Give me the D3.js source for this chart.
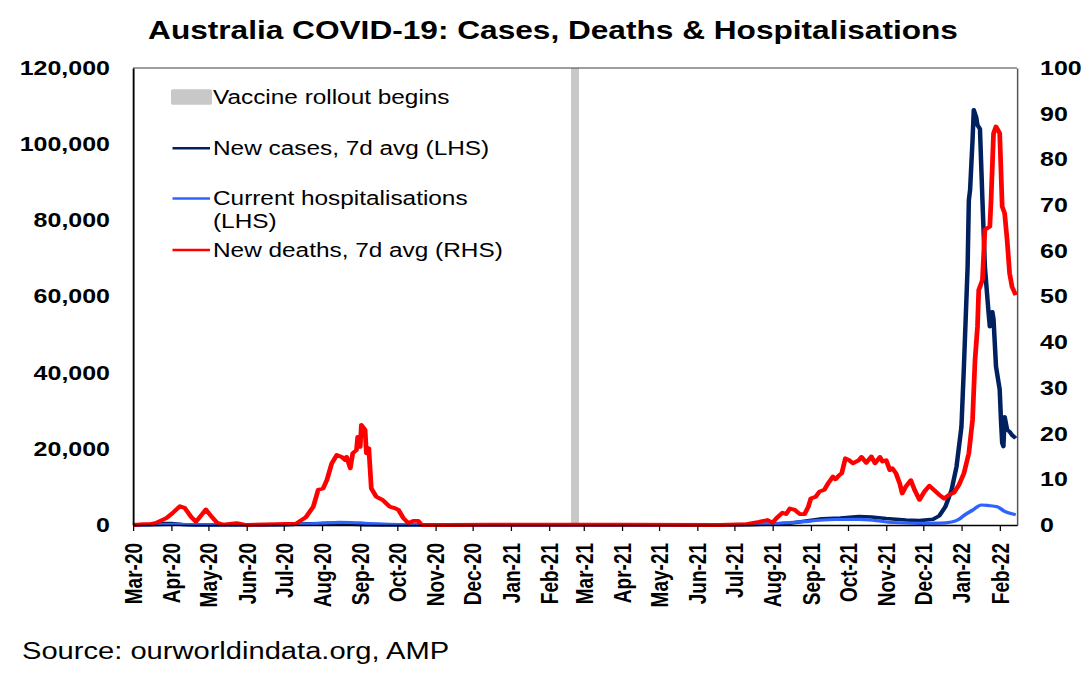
<!DOCTYPE html>
<html>
<head>
<meta charset="utf-8">
<script src="https://cdn.jsdelivr.net/npm/d3@7"></script>
<style>
  body { margin: 0; background: #fff; }
  svg { display: block; font-family: "Liberation Sans", Arial, sans-serif; }
</style>
</head>
<body>
<svg id="chart"></svg>
<script>
"use strict";

// Data.

var casesData = [
  ["2020-03-01", 5], ["2020-03-15", 60], ["2020-03-25", 350], ["2020-04-01", 380],
  ["2020-04-10", 150], ["2020-04-20", 40], ["2020-05-10", 15], ["2020-06-15", 15],
  ["2020-07-01", 60], ["2020-07-15", 250], ["2020-08-01", 400], ["2020-08-08", 450],
  ["2020-08-20", 300], ["2020-09-05", 110], ["2020-09-20", 30], ["2020-10-10", 15],
  ["2020-11-15", 8], ["2020-12-25", 20], ["2021-01-05", 25], ["2021-02-01", 8],
  ["2021-04-01", 10], ["2021-06-01", 10], ["2021-06-30", 25], ["2021-07-15", 90],
  ["2021-07-31", 250], ["2021-08-15", 450], ["2021-08-31", 1200], ["2021-09-10", 1650],
  ["2021-09-25", 1800], ["2021-10-10", 2250], ["2021-10-20", 2100], ["2021-11-01", 1700],
  ["2021-11-17", 1300], ["2021-11-28", 1150], ["2021-12-09", 1500], ["2021-12-14", 2400],
  ["2021-12-19", 4800], ["2021-12-24", 9200], ["2021-12-28", 15300], ["2022-01-01", 25800],
  ["2022-01-03", 41600], ["2022-01-06", 67800], ["2022-01-07", 85300], ["2022-01-08", 88000],
  ["2022-01-10", 101100], ["2022-01-11", 109000], ["2022-01-13", 107000], ["2022-01-14", 105000],
  ["2022-01-16", 104000], ["2022-01-18", 85300], ["2022-01-20", 67800], ["2022-01-23", 55600],
  ["2022-01-24", 52100], ["2022-01-25", 55000], ["2022-01-26", 56000], ["2022-01-27", 54000],
  ["2022-01-29", 41600], ["2022-02-01", 35500], ["2022-02-02", 27600], ["2022-02-03", 21500],
  ["2022-02-04", 20600], ["2022-02-05", 28400], ["2022-02-07", 25000], ["2022-02-09", 24500],
  ["2022-02-11", 23600], ["2022-02-14", 22800]
];

var hospData = [
  ["2020-03-01", 0], ["2020-03-20", 50], ["2020-04-05", 150], ["2020-04-20", 100],
  ["2020-05-15", 40], ["2020-06-15", 20], ["2020-07-01", 30], ["2020-07-20", 250],
  ["2020-08-05", 550], ["2020-08-15", 680], ["2020-08-25", 650], ["2020-09-05", 450],
  ["2020-09-20", 250], ["2020-10-05", 100], ["2020-10-25", 30], ["2020-12-01", 10],
  ["2021-03-01", 15], ["2021-06-19", 30], ["2021-07-10", 100], ["2021-07-31", 300],
  ["2021-08-15", 600], ["2021-08-26", 870], ["2021-09-08", 1250], ["2021-09-21", 1450],
  ["2021-10-10", 1500], ["2021-10-24", 1150], ["2021-11-06", 650], ["2021-11-28", 440],
  ["2021-12-14", 480], ["2021-12-24", 800], ["2021-12-30", 1500], ["2022-01-03", 2500],
  ["2022-01-10", 3900], ["2022-01-17", 5250], ["2022-01-23", 5100], ["2022-01-30", 4800],
  ["2022-02-05", 3600], ["2022-02-10", 3000], ["2022-02-14", 2700]
];

var deathsData = [
  ["2020-03-01", 0], ["2020-03-10", 0.2], ["2020-03-15", 0.2], ["2020-03-20", 0.5],
  ["2020-03-28", 1.5], ["2020-04-02", 2.6], ["2020-04-08", 4.1], ["2020-04-12", 3.7],
  ["2020-04-17", 1.8], ["2020-04-21", 0.7], ["2020-04-24", 1.7], ["2020-04-29", 3.4],
  ["2020-05-04", 1.7], ["2020-05-08", 0.5], ["2020-05-13", 0.1], ["2020-05-24", 0.4],
  ["2020-06-01", 0], ["2020-06-25", 0.2], ["2020-07-11", 0.3], ["2020-07-19", 1.7],
  ["2020-07-25", 4.0], ["2020-07-29", 7.7], ["2020-08-02", 8.0], ["2020-08-05", 9.8],
  ["2020-08-09", 13.5], ["2020-08-13", 15.3], ["2020-08-17", 14.9], ["2020-08-20", 14.2],
  ["2020-08-21", 14.9], ["2020-08-24", 12.4], ["2020-08-26", 15.7], ["2020-08-29", 16.4],
  ["2020-08-30", 19.3], ["2020-09-01", 17.1], ["2020-09-02", 21.9], ["2020-09-05", 20.8],
  ["2020-09-06", 15.7], ["2020-09-08", 16.8], ["2020-09-10", 8.0], ["2020-09-14", 6.2],
  ["2020-09-19", 5.5], ["2020-09-25", 4.0], ["2020-09-29", 3.7], ["2020-10-02", 3.3],
  ["2020-10-06", 1.5], ["2020-10-10", 0.4], ["2020-10-14", 0.9], ["2020-10-18", 0.9],
  ["2020-10-21", 0], ["2020-11-12", 0], ["2020-12-15", 0.1], ["2021-01-10", 0.1],
  ["2021-04-01", 0.1], ["2021-06-19", 0], ["2021-07-11", 0.2], ["2021-07-21", 0.7],
  ["2021-07-28", 1.1], ["2021-08-01", 0.5], ["2021-08-05", 1.7], ["2021-08-09", 2.7],
  ["2021-08-12", 2.4], ["2021-08-15", 3.6], ["2021-08-19", 3.3], ["2021-08-23", 2.4],
  ["2021-08-27", 2.4], ["2021-08-30", 4.0], ["2021-09-01", 5.8], ["2021-09-05", 6.2],
  ["2021-09-08", 7.3], ["2021-09-12", 7.7], ["2021-09-15", 9.1], ["2021-09-19", 10.6],
  ["2021-09-21", 10.0], ["2021-09-24", 10.9], ["2021-09-26", 11.3], ["2021-09-29", 14.6],
  ["2021-10-02", 14.2], ["2021-10-05", 13.5], ["2021-10-10", 14.2], ["2021-10-12", 14.9],
  ["2021-10-16", 13.6], ["2021-10-20", 15.0], ["2021-10-23", 13.5], ["2021-10-27", 14.9],
  ["2021-10-29", 13.9], ["2021-11-01", 14.2], ["2021-11-04", 12.0], ["2021-11-06", 12.4],
  ["2021-11-09", 11.3], ["2021-11-12", 9.1], ["2021-11-14", 6.9], ["2021-11-17", 8.4],
  ["2021-11-21", 9.8], ["2021-11-24", 7.7], ["2021-11-28", 5.5], ["2021-12-02", 7.3],
  ["2021-12-06", 8.6], ["2021-12-10", 7.6], ["2021-12-14", 6.6], ["2021-12-18", 5.8],
  ["2021-12-22", 6.6], ["2021-12-26", 7.1], ["2021-12-30", 8.8], ["2022-01-03", 11.3],
  ["2022-01-07", 15.7], ["2022-01-10", 23.0], ["2022-01-12", 36.1], ["2022-01-14", 43.4],
  ["2022-01-15", 51.4], ["2022-01-18", 53.6], ["2022-01-20", 64.6], ["2022-01-24", 65.3],
  ["2022-01-25", 71.1], ["2022-01-27", 85.7], ["2022-01-29", 87.2], ["2022-02-01", 85.7],
  ["2022-02-03", 69.7], ["2022-02-05", 68.2], ["2022-02-07", 62.4], ["2022-02-09", 55.1],
  ["2022-02-11", 52.1], ["2022-02-14", 50.3]
];

var vaccineDate = "2021-02-22";
var dateRange = ["2020-03-01", "2022-02-15"];

var leftTicks = [0, 20000, 40000, 60000, 80000, 100000, 120000];
var rightTicks = [0, 10, 20, 30, 40, 50, 60, 70, 80, 90, 100];

var legendLabels = [
  ["Vaccine rollout begins"],
  ["New cases, 7d avg (LHS)"],
  ["Current hospitalisations", "(LHS)"],
  ["New deaths, 7d avg (RHS)"]
];

var titleText = "Australia COVID-19: Cases, Deaths & Hospitalisations";
var sourceText = "Source: ourworldindata.org, AMP";

// Colours.

var CasesColor = "#002060";
var HospColor = "#2E64FE";
var DeathsColor = "#FF0000";
var VaccineColor = "#C8C8C8";

// Page. The reference is stretched sideways, so everything is drawn in a
// narrower viewBox and stretched back out to the page width.

var PageW = 1081, PageH = 684;
var SX = 1.25;
var W = PageW / SX;

var svg = d3.select("#chart")
    .attr("width", PageW)
    .attr("height", PageH)
    .attr("viewBox", "0 0 " + W + " " + PageH)
    .attr("preserveAspectRatio", "none");

var Left = 133 / SX, Right = 1017 / SX, Top = 68, Bottom = 525;

var parse = d3.timeParse("%Y-%m-%d");
var toPoints = function(arr){
    return arr.map(function(d){ return {date: parse(d[0]), value: d[1]}; });
};

var x = d3.scaleTime()
    .domain(dateRange.map(parse))
    .range([Left, Right]);
var yL = d3.scaleLinear().domain([0, 120000]).range([Bottom, Top]);
var yR = d3.scaleLinear().domain([0, 100]).range([Bottom, Top]);

// Title and source.

svg.append("text")
    .attr("x", 553 / SX).attr("y", 39)
    .attr("text-anchor", "middle")
    .style("font-size", "25.3px").style("font-weight", "bold")
    .text(titleText);

svg.append("text")
    .attr("x", 22 / SX).attr("y", 659)
    .style("font-size", "23.3px")
    .text(sourceText);

// Vaccine rollout marker.

svg.append("rect")
    .attr("x", x(parse(vaccineDate)) - 4 / SX)
    .attr("y", Top)
    .attr("width", 8 / SX)
    .attr("height", Bottom - Top)
    .attr("fill", VaccineColor);

// Lines.

var lineL = d3.line()
    .x(function(d){ return x(d.date); })
    .y(function(d){ return yL(d.value); });
var lineR = d3.line()
    .x(function(d){ return x(d.date); })
    .y(function(d){ return yR(d.value); });

svg.append("path")
    .datum(toPoints(casesData))
    .attr("d", lineL)
    .attr("fill", "none").attr("stroke", CasesColor)
    .attr("stroke-width", 3.6).attr("stroke-linejoin", "round");

svg.append("path")
    .datum(toPoints(hospData))
    .attr("d", lineL.curve(d3.curveMonotoneX))
    .attr("fill", "none").attr("stroke", HospColor)
    .attr("stroke-width", 3.2).attr("stroke-linejoin", "round");

svg.append("path")
    .datum(toPoints(deathsData))
    .attr("d", lineR)
    .attr("fill", "none").attr("stroke", DeathsColor)
    .attr("stroke-width", 3.8).attr("stroke-linejoin", "round");

// Frame.

svg.append("line")
    .attr("x1", Left).attr("x2", Right).attr("y1", Top).attr("y2", Top)
    .attr("stroke", "#404040").attr("stroke-width", 1);

// Axes.

var styleText = function(sel, size){
    sel.attr("font-family", null).attr("font-size", null);
    sel.selectAll("text")
        .attr("fill", "#000")
        .style("font-size", size)
        .style("font-weight", "bold");
};

var gyL = svg.append("g")
    .attr("transform", "translate(" + Left + ",0)")
    .call(d3.axisLeft(yL).tickValues(leftTicks).tickFormat(d3.format(","))
        .tickSize(0).tickPadding(Left - 110 / SX));
gyL.select(".domain").attr("stroke", "#000").attr("stroke-width", 1.5);
styleText(gyL, "20px");

var gyR = svg.append("g")
    .attr("transform", "translate(" + Right + ",0)")
    .call(d3.axisRight(yR).tickValues(rightTicks)
        .tickSize(0).tickPadding(1040 / SX - Right));
gyR.select(".domain").attr("stroke", "#555").attr("stroke-width", 1.2);
styleText(gyR, "20px");

var gx = svg.append("g")
    .attr("transform", "translate(0," + Bottom + ")")
    .call(d3.axisBottom(x).ticks(d3.timeMonth.every(1))
        .tickFormat(d3.timeFormat("%b-%y")).tickSize(6).tickSizeOuter(0));
gx.select(".domain").attr("stroke", "#000").attr("stroke-width", 1.5);
gx.selectAll(".tick line").attr("stroke", "#000").attr("stroke-width", 1);
styleText(gx, "19px");
gx.selectAll(".tick text")
    .attr("transform", "rotate(-90)")
    .attr("text-anchor", "end")
    .attr("x", -18).attr("y", 0)
    .attr("dy", "0.35em");

// Legend.

var legend = svg.append("g");
var LegendTextX = 213 / SX;
var legendRows = [
    {y: 97, kind: "rect", color: VaccineColor},
    {y: 148.3, kind: "line", color: CasesColor},
    {y: 198.5, kind: "line", color: HospColor},
    {y: 250, kind: "line", color: DeathsColor}
];

legendRows.forEach(function(r, i){
    if (r.kind === "rect"){
        legend.append("rect")
            .attr("x", 171 / SX).attr("y", r.y - 7.7)
            .attr("width", 41 / SX).attr("height", 15.5)
            .attr("rx", 1.5)
            .attr("fill", r.color);
    } else {
        legend.append("line")
            .attr("x1", 172.5 / SX).attr("x2", 210 / SX)
            .attr("y1", r.y).attr("y2", r.y)
            .attr("stroke", r.color).attr("stroke-width", 2.6);
    }
    var t = legend.append("text")
        .attr("x", LegendTextX)
        .attr("y", r.y + 6.7)
        .style("font-size", "19.5px");
    legendLabels[i].forEach(function(s, k){
        t.append("tspan")
            .attr("x", LegendTextX)
            .attr("dy", k === 0 ? 0 : 22.7)
            .text(s);
    });
});
</script>
</body>
</html>
